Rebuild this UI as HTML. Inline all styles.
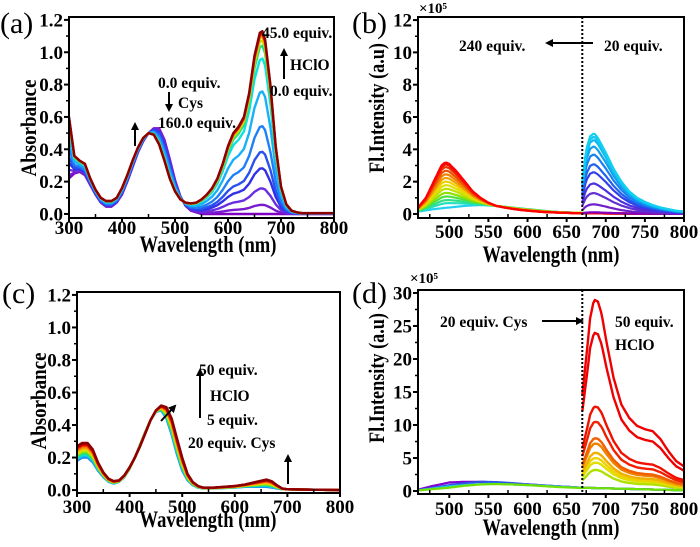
<!DOCTYPE html>
<html><head><meta charset="utf-8"><style>
html,body{margin:0;padding:0;background:#fff;}
svg text{font-family:"Liberation Serif",serif;font-weight:bold;fill:#000;}
</style></head><body>
<svg id="fig" width="700" height="542" viewBox="0 0 700 542" xmlns="http://www.w3.org/2000/svg">
<defs><marker id="ah" markerWidth="8" markerHeight="8" refX="6" refY="4" orient="auto" markerUnits="userSpaceOnUse"><path d="M0,0 L8,4 L0,8 z" fill="#000"/></marker></defs>
</svg>
<script>
// ---------- Panel (a) data ----------
const aWl = [300,310,320,330,340,350,360,370,380,390,400,410,420,430,440,450,460,470,480,490,500,510,520,530,540,550,560,570,580,590,600,610,620,630,640,650,660,665,670,680,690,700,710,720,730,740,760,800];
const aStart = [0.22,0.25,0.26,0.24,0.18,0.12,0.07,0.045,0.045,0.07,0.12,0.2,0.29,0.38,0.45,0.5,0.53,0.53,0.46,0.34,0.21,0.11,0.05,0.02,0.01,0.0,0,0,0,0,0,0,0,0,0,0,0,0,0,0,0,0,0,0,0,0,0,0];
const aEnd = [0.6,0.36,0.33,0.31,0.22,0.15,0.1,0.08,0.08,0.1,0.16,0.24,0.33,0.41,0.47,0.5,0.49,0.43,0.33,0.22,0.14,0.09,0.07,0.065,0.07,0.09,0.12,0.16,0.22,0.31,0.42,0.5,0.54,0.6,0.75,0.98,1.12,1.13,1.08,0.8,0.42,0.17,0.06,0.02,0.01,0.005,0.005,0.005];
const aLevels = [0,0.05,0.14,0.25,0.34,0.48,0.67,0.85,0.92,0.95,0.97,0.98,0.99,1.0];
const aColors = ['#8000c0','#7a1ad0','#6a2ee0','#3030e8','#2a50f0','#1e80f8','#18b0f8','#10e0e0','#20e080','#c0e000','#f0c000','#f07000','#e01000','#8b0000'];
// ---------- Panel (b) data ----------
const bWlL = [460,470,480,490,495,500,510,520,530,540,550,560,570,580,590,600,620,640,660,700,800];
const bLeftLow = [0.15,0.22,0.3,0.35,0.38,0.4,0.45,0.5,0.53,0.55,0.53,0.5,0.45,0.4,0.35,0.3,0.2,0.12,0.08,0.04,0.01];
const bLeftHigh = [0.4,1.0,2.0,3.0,3.2,3.1,2.6,2.0,1.4,1.0,0.7,0.5,0.4,0.32,0.25,0.2,0.12,0.08,0.05,0.03,0.01];
const bLeftLevels = [0,0.1,0.17,0.25,0.33,0.42,0.5,0.58,0.66,0.74,0.82,0.9,0.96,1.0];
const bLeftColors = ['#20d0f0','#20e0c0','#30e080','#50e040','#90e000','#c0e000','#e0e000','#f0d000','#f0a000','#f08000','#f05000','#f03000','#f01000','#ff0000'];
const bWlR = [670,675,680,685,690,700,710,720,730,740,750,760,770,780,790,800];
const bRightShape = [2.0,4.0,4.8,5.0,4.7,3.8,2.8,2.0,1.4,1.0,0.75,0.55,0.4,0.3,0.2,0.15];
const bRightPeaks = [0.1,0.6,1.3,1.9,2.6,3.1,3.7,4.2,4.6,4.8,5.0];
const bRightColors = ['#8000c0','#7020c8','#6030d0','#4a30e0','#3040e8','#2060f0','#1880f0','#10a0f0','#10b8f0','#10c8f0','#10d0f0'];
// ---------- Panel (c) data ----------
const cWl = [300,310,320,330,340,350,360,370,380,390,400,410,420,430,440,450,460,470,480,490,500,510,520,530,540,560,600,620,640,660,670,680,690,700,800];
const cStart = [0.18,0.2,0.2,0.17,0.12,0.08,0.05,0.04,0.05,0.08,0.13,0.2,0.28,0.36,0.43,0.48,0.49,0.44,0.34,0.22,0.12,0.06,0.03,0.015,0.01,0.01,0.015,0.02,0.02,0.02,0.015,0.01,0.005,0.005,0];
const cEnd = [0.27,0.29,0.29,0.25,0.17,0.11,0.07,0.055,0.06,0.09,0.14,0.2,0.27,0.35,0.43,0.49,0.52,0.51,0.44,0.32,0.2,0.1,0.05,0.025,0.015,0.015,0.025,0.035,0.05,0.065,0.055,0.03,0.01,0.005,0];
const cLevels = [0,0.1,0.2,0.3,0.4,0.5,0.6,0.7,0.8,0.88,0.94,1.0];
const cColors = ['#2080f0','#10c0f0','#10e0c0','#30e060','#a0e000','#e0e000','#f0c000','#f08000','#f04000','#e00000','#b00000','#8b0000'];
// ---------- Panel (d) data ----------
const dWlL = [460,480,500,520,540,560,580,600,620,640,670];
const dLeft = [[0.2,0.8,1.3,1.4,1.4,1.3,1.15,1.0,0.85,0.7,0.5],[0.15,0.5,0.9,1.2,1.4,1.35,1.2,1.0,0.85,0.7,0.5],[0.1,0.4,0.7,0.9,1.05,1.1,1.0,0.9,0.8,0.65,0.5],[0.1,0.3,0.5,0.8,1.0,1.05,1.0,0.9,0.75,0.6,0.45]];
const dLeftColors = ['#8000d0','#3050e8','#20d0e0','#70e000'];
const dWlR = [670,675,680,685,690,695,700,710,720,730,740,750,760,770,780,790,800];
const dRightShape = [14.5,20,26,28.8,28.5,26.5,23,17,13,11,9.8,9.3,9.0,7.8,6,4.5,3.7];
const dRightPeaks = [3.2,4.3,5.0,5.8,7.2,8.0,10.5,12.8,24,29];
const dRightColors = ['#b0e000','#e0e000','#f0d000','#f0b000','#f08000','#f06000','#f02000','#f01000','#f00000','#f00000'];
// tick arrays
const absTicks = ['0.0','0.2','0.4','0.6','0.8','1.0','1.2'];
const xTicksA = [300,400,500,600,700,800];
const xTicksB = [500,550,600,650,700,750,800];
const yTicksB = [0,2,4,6,8,10,12];
const yTicksD = [0,5,10,15,20,25,30];

const svg = document.getElementById('fig');
const NS = 'http://www.w3.org/2000/svg';
function mk(tag, attrs, parent){const e=document.createElementNS(NS,tag);for(const k in attrs)e.setAttribute(k,attrs[k]);(parent||svg).appendChild(e);return e;}
function interp(xs, ys, x){if(x<=xs[0])return ys[0];for(let i=1;i<xs.length;i++){if(x<=xs[i]){const t=(x-xs[i-1])/(xs[i]-xs[i-1]);return ys[i-1]+t*(ys[i]-ys[i-1]);}}return ys[ys.length-1];}

function panel(id, cfg){
  const g = mk('g',{});
  
  
  const sx = v => cfg.px[0] + (v-cfg.xd[0])/(cfg.xd[1]-cfg.xd[0])*(cfg.px[1]-cfg.px[0]);
  const sy = v => cfg.py[0] + (v-cfg.yd[0])/(cfg.yd[1]-cfg.yd[0])*(cfg.py[1]-cfg.py[0]);
  const cp = mk('clipPath',{id:'clip'+id},g);
  mk('rect',{x:cfg.px[0],y:cfg.py[1],width:cfg.px[1]-cfg.px[0],height:cfg.py[0]-cfg.py[1]},cp);
  const plot = mk('g',{'clip-path':'url(#clip'+id+')'},g);
  
  
  return {g, plot, sx, sy, cfg};
}
function line(P, xs, ys, color, name, w){
  let d='';
  for(let i=0;i<xs.length;i++){d+=(i?'L':'M')+P.sx(xs[i]).toFixed(1)+','+P.sy(ys[i]).toFixed(1);}
  const p = mk('path',{d, fill:'none', stroke:color, 'stroke-width':w||2.4, 'stroke-linejoin':'round'}, P.plot);
  
  
}
function frame(P, xticks, xminor, yticks, yminor, ylabels){
  const c=P.cfg, g=P.g;
  const r = mk('rect',{x:c.px[0],y:c.py[1],width:c.px[1]-c.px[0],height:c.py[0]-c.py[1],fill:'none',stroke:'#000','stroke-width':2},g);
  
  
  xticks.forEach(v=>{const x=P.sx(v);mk('line',{x1:x,x2:x,y1:c.py[0],y2:c.py[0]+4,stroke:'#000','stroke-width':2},g);
    const t=mk('text',{x:x,y:c.py[0]+c.xo,'font-size':19,'text-anchor':'middle'},g);t.textContent=v;
    
    });
  xminor.forEach(v=>{const x=P.sx(v);mk('line',{x1:x,x2:x,y1:c.py[0],y2:c.py[0]-4,stroke:'#000','stroke-width':1.5},g);});
  yticks.forEach((v,i)=>{const y=P.sy(v);mk('line',{x1:c.px[0]-5,x2:c.px[0],y1:y,y2:y,stroke:'#000','stroke-width':2},g);
    const t=mk('text',{x:c.px[0]-6,y:y+6.5,'font-size':19,'text-anchor':'end'},g);t.textContent=ylabels[i];
    
    });
  yminor.forEach(v=>{const y=P.sy(v);mk('line',{x1:c.px[0]-3,x2:c.px[0],y1:y,y2:y,stroke:'#000','stroke-width':1.5},g);});
}
function txt(x,y,s,size,name,extra){const t=mk('text',Object.assign({x,y,'font-size':size},extra||{}));t.textContent=s;
  
  return t;}
function arrow(x1,y1,x2,y2,name){const l=mk('line',{x1,y1,x2,y2,stroke:'#000','stroke-width':2,'marker-end':'url(#ah)'});
  
  }
const range=(a,b,s)=>{const r=[];for(let v=a;v<=b+1e-9;v+=s)r.push(+v.toFixed(3));return r;};
const fine=(a,b)=>range(a,b,2);

// ===== Panel a =====
const A = panel('a',{px:[69,334],py:[218,17],xd:[300,800],yd:[-0.025,1.218],xo:16});
aLevels.forEach((f,i)=>{const ys=aStart.map((s,j)=>s+f*(aEnd[j]-s));line(A,aWl,ys,aColors[i],'absorbance-curve-a-'+i);});
frame(A,xTicksA,range(350,750,100),absTicks.map(Number),range(0.1,1.1,0.2),absTicks);
// ===== Panel b =====
const B = panel('b',{px:[418,684],py:[218,17],xd:[460,800],yd:[-0.25,12.19],xo:20});
const bx=fine(460,800);
bLeftLevels.forEach((f,i)=>{const ys=bx.map(x=>{const lo=interp(bWlL,bLeftLow,x),hi=interp(bWlL,bLeftHigh,x);return lo+f*(hi-lo);});line(B,bx,ys,bLeftColors[i],'emission-curve-left-b-'+i,2.2);});
const bxr=fine(670,800);
bRightPeaks.forEach((p,i)=>{const ys=bxr.map(x=>interp(bWlR,bRightShape,x)*p/5);line(B,bxr,ys,bRightColors[i],'emission-curve-right-b-'+i,2.2);});
frame(B,xTicksB,range(475,775,50),yTicksB,range(1,11,2),yTicksB.map(String));
// ===== Panel c =====
const C = panel('c',{px:[77,340],py:[493,292],xd:[300,800],yd:[-0.018,1.218],xo:20});
cLevels.forEach((f,i)=>{const ys=cStart.map((s,j)=>s+f*(cEnd[j]-s));line(C,cWl,ys,cColors[i],'absorbance-curve-c-'+i);});
frame(C,xTicksA,range(350,750,100),absTicks.map(Number),range(0.1,1.1,0.2),absTicks);
// ===== Panel d =====
const D = panel('d',{px:[418,684],py:[494,290],xd:[460,800],yd:[-0.45,30.45],xo:21});
dLeft.forEach((ys,i)=>{const xs=fine(460,800);const v=xs.map(x=>x<=670?interp(dWlL,ys,x):0.5-(x-670)*0.003);line(D,xs,v,dLeftColors[i],'emission-curve-left-d-'+i,2.2);});
const dxr=fine(670,800);
dRightPeaks.forEach((p,i)=>{const ys=dxr.map(x=>interp(dWlR,dRightShape,x)*p/28.8);line(D,dxr,ys,dRightColors[i],'emission-curve-right-d-'+i,2.4);});
frame(D,xTicksB,range(475,775,50),yTicksD,range(2.5,27.5,5),yTicksD.map(String));

// dotted separators
[[B,670],[D,670]].forEach(([P,w])=>{const x=P.sx(w);const l=mk('line',{x1:x,x2:x,y1:P.cfg.py[1],y2:P.cfg.py[0],stroke:'#000','stroke-width':2,'stroke-dasharray':'2,2'});
  
  });

// panel letters & titles
txt(0,33,'(a)',30,'panel-label-a',{style:'font-weight:normal'});
txt(352,33,'(b)',30,'panel-label-b',{style:'font-weight:normal'});
txt(2,303,'(c)',30,'panel-label-c',{style:'font-weight:normal'});
txt(352,303,'(d)',30,'panel-label-d',{style:'font-weight:normal'});
const tt={'text-anchor':'middle',textLength:137,lengthAdjust:'spacingAndGlyphs'};
txt(208,252,'Wavelength (nm)',23,'x-axis-title-a',tt);
txt(551,262,'Wavelength (nm)',23,'x-axis-title-b',tt);
txt(208,527,'Wavelength (nm)',23,'x-axis-title-c',tt);
txt(551,535,'Wavelength (nm)',23,'x-axis-title-d',tt);
txt(0,0,'Absorbance',22,'y-axis-title-a',{'text-anchor':'middle',textLength:97,lengthAdjust:'spacingAndGlyphs',transform:'translate(36,128) rotate(-90)'});
txt(0,0,'Fl.Intensity (a.u)',22,'y-axis-title-b',{'text-anchor':'middle',textLength:130,lengthAdjust:'spacingAndGlyphs',transform:'translate(384,108) rotate(-90)'});
txt(0,0,'Absorbance',22,'y-axis-title-c',{'text-anchor':'middle',textLength:97,lengthAdjust:'spacingAndGlyphs',transform:'translate(46,401) rotate(-90)'});
txt(0,0,'Fl.Intensity (a.u)',22,'y-axis-title-d',{'text-anchor':'middle',textLength:130,lengthAdjust:'spacingAndGlyphs',transform:'translate(384,378) rotate(-90)'});
txt(419,13,'×10⁵',15,'scale-note-b');
txt(410,283,'×10⁵',15,'scale-note-d');

// annotations a
txt(262,38,'45.0 equiv.',15.5,'annot-a-45');
arrow(284,79,284,50,'arrow-a-hclo');
txt(290,70,'HClO',15.5,'annot-a-hclo');
txt(270,96,'0.0 equiv.',15.5,'annot-a-0');
txt(158,88,'0.0 equiv.',15.5,'annot-a-cys0');
arrow(169,92,169,110,'arrow-a-cys');
txt(178,108,'Cys',15.5,'annot-a-cys');
txt(158,128,'160.0 equiv.',15.5,'annot-a-160');
arrow(135,146,135,124,'arrow-a-peak');
// annotations b
txt(459,51,'240 equiv.',15.5,'annot-b-240');
arrow(593,43,547,43,'arrow-b');
txt(604,51,'20 equiv.',15.5,'annot-b-20');
// annotations c
arrow(200,418,200,370,'arrow-c-hclo');
txt(199,375,'50 equiv.',15.5,'annot-c-50');
txt(210,401,'HClO',15.5,'annot-c-hclo');
txt(207,425,'5 equiv.',15.5,'annot-c-5');
txt(188,448,'20 equiv. Cys',15.5,'annot-c-cys');
arrow(161,421,175,406,'arrow-c-shift');
arrow(288,484,288,456,'arrow-c-nir');
// annotations d
txt(440,327,'20 equiv. Cys',15.5,'annot-d-cys');
arrow(542,321,582,321,'arrow-d');
txt(615,327,'50 equiv.',15.5,'annot-d-50');
txt(615,350,'HClO',15.5,'annot-d-hclo');
</script>
</body></html>
